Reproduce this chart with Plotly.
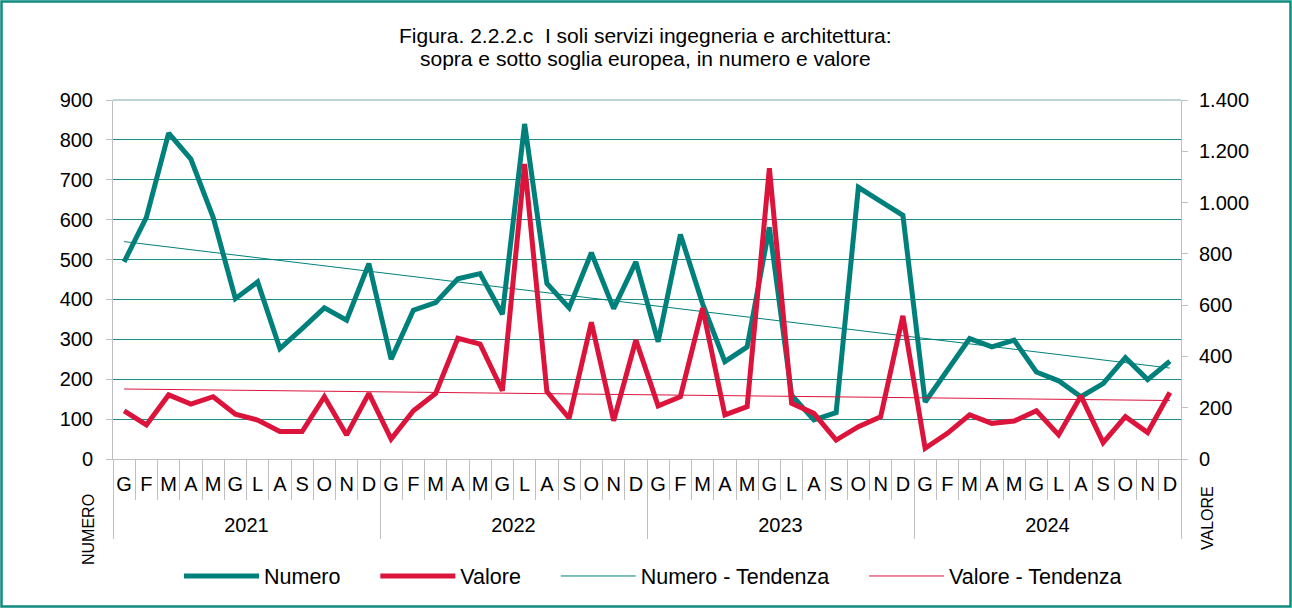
import plotly.graph_objects as go

years = ["2021", "2022", "2023", "2024"]
months = ["G", "F", "M", "A", "M", "G", "L", "A", "S", "O", "N", "D"]

numero = [494, 606, 817, 752, 606, 402, 444, 277, 327, 379, 348, 490,
          250, 373, 392, 452, 465, 363, 840, 440, 379, 517, 377, 494,
          294, 563, 389, 244, 281, 581, 160, 98, 116, 681, 646, 611,
          143, 223, 302, 281, 298, 218, 196, 156, 189, 254, 199, 245]

valore = [188, 133, 250, 214, 243, 175, 152, 107, 107, 243, 94, 256,
          78, 188, 256, 471, 448, 266, 1150, 263, 159, 533, 149, 464,
          207, 243, 588, 172, 204, 1134, 217, 178, 74, 126, 165, 558,
          42, 100, 172, 139, 148, 188, 94, 246, 64, 165, 103, 259]

# trend lines (start / end values)
numero_trend = [545, 228]
valore_trend = [273, 228]

title_lines = ["Figura. 2.2.2.c  I soli servizi ingegneria e architettura:",
               "sopra e sotto soglia europea, in numero e valore"]

TEAL = "#00807B"
RED = "#DC143C"
GRID = "#1E8C86"
AXIS = "#BFBFBF"
FONT = "Liberation Sans, Arial, sans-serif"
PAD = "\u00a0" * 5

n = len(numero)
idx = list(range(n))
ticktext = [m for _ in years for m in months]
year_pos = [i * 12 + 5.5 for i in range(len(years))]

fig = go.Figure()

fig.add_trace(go.Scatter(x=[idx[0], idx[-1]], y=numero_trend, mode="lines",
                         name="Numero - Tendenza" + PAD, line=dict(color=TEAL, width=1),
                         legendrank=3, yaxis="y", hoverinfo="skip"))
fig.add_trace(go.Scatter(x=idx, y=numero, mode="lines", name="Numero" + PAD,
                         line=dict(color=TEAL, width=5), legendrank=1, yaxis="y"))
fig.add_trace(go.Scatter(x=[idx[0], idx[-1]], y=valore_trend, mode="lines",
                         name="Valore - Tendenza", line=dict(color=RED, width=1),
                         legendrank=4, yaxis="y2", hoverinfo="skip"))
fig.add_trace(go.Scatter(x=idx, y=valore, mode="lines", name="Valore" + PAD,
                         line=dict(color=RED, width=5), legendrank=2, yaxis="y2"))
# invisible helper trace for year axis
fig.add_trace(go.Scatter(x=year_pos, y=[None] * len(years), xaxis="x2", yaxis="y",
                         showlegend=False, hoverinfo="skip"))

W, H = 1292, 608
L, R, T, B = 113, 111, 100, 149
pw, ph = W - L - R, H - T - B


def py(pix):
    return (T + ph - pix) / ph


def px(pix):
    return (pix - L) / pw


fig.update_layout(
    width=W, height=H,
    margin=dict(l=L, r=R, t=T, b=B, autoexpand=False),
    paper_bgcolor="white", plot_bgcolor="white",
    font=dict(family=FONT, size=20, color="black"),
    separators=",.",
    xaxis=dict(range=[-0.5, n - 0.5], tickmode="array", tickvals=idx, ticktext=ticktext,
               ticks="", showline=True, linecolor=AXIS, linewidth=1,
               showgrid=False, zeroline=False, ticklabelstandoff=7,
               tickfont=dict(size=20),
               minor=dict(tickmode="linear", tick0=-0.5, dtick=1, ticks="outside",
                          ticklen=40, tickcolor=AXIS, tickwidth=1, showgrid=False)),
    xaxis2=dict(range=[-0.5, n - 0.5], overlaying="x", anchor="y", side="bottom",
                tickmode="array", tickvals=year_pos, ticktext=years, ticks="",
                showline=False, showgrid=False, zeroline=False, ticklabelstandoff=52,
                tickfont=dict(size=20),
                minor=dict(tickmode="linear", tick0=-0.5, dtick=12, ticks="outside",
                           ticklen=79, tickcolor=AXIS, tickwidth=1, showgrid=False)),
    yaxis=dict(range=[0, 900], dtick=100, tick0=0, ticks="outside", ticklen=6,
               tickcolor=AXIS, showline=True, linecolor=AXIS, linewidth=1,
               showgrid=True, gridcolor=GRID, gridwidth=1, zeroline=False,
               ticklabelstandoff=9, tickfont=dict(size=20)),
    yaxis2=dict(range=[0, 1400], dtick=200, tick0=0, overlaying="y", side="right",
                ticks="outside", ticklen=6, tickcolor=AXIS, showline=True,
                linecolor=AXIS, linewidth=1, showgrid=False, zeroline=False,
                tickformat=",d", ticklabelstandoff=7, tickfont=dict(size=20)),
    legend=dict(orientation="h", x=px(653), xanchor="center", y=py(576),
                yanchor="middle", font=dict(size=21.5), bgcolor="rgba(0,0,0,0)",
                itemwidth=75, traceorder="normal"),
    showlegend=True,
)

# title lines
for txt, ypix in zip(title_lines, [35, 59]):
    fig.add_annotation(text=txt, xref="paper", yref="paper", x=px(645), y=py(ypix),
                       showarrow=False, xanchor="center", yanchor="middle",
                       font=dict(size=21, family=FONT, color="black"))

# top border of plot area
fig.add_shape(type="line", xref="paper", yref="paper", x0=0, x1=1, y0=1, y1=1,
              line=dict(color="#A9C4C4", width=1.5))

# outer frame
fig.add_shape(type="rect", xref="paper", yref="paper",
              x0=px(1.5), x1=px(W - 1.5), y0=py(H - 1.5), y1=py(1.5),
              line=dict(color="#0E8A80", width=2.5), fillcolor="rgba(0,0,0,0)")

fig.add_annotation(text="NUMERO", xref="paper", yref="paper",
                   x=px(88), y=py(530), textangle=-90,
                   showarrow=False, font=dict(size=16, family=FONT),
                   xanchor="center", yanchor="middle")
fig.add_annotation(text="VALORE", xref="paper", yref="paper",
                   x=px(1207), y=py(518), textangle=-90,
                   showarrow=False, font=dict(size=16, family=FONT),
                   xanchor="center", yanchor="middle")

fig.write_html("out.html", config={"displayModeBar": False},
               post_script="document.body.style.margin='0';document.body.style.padding='0';")
